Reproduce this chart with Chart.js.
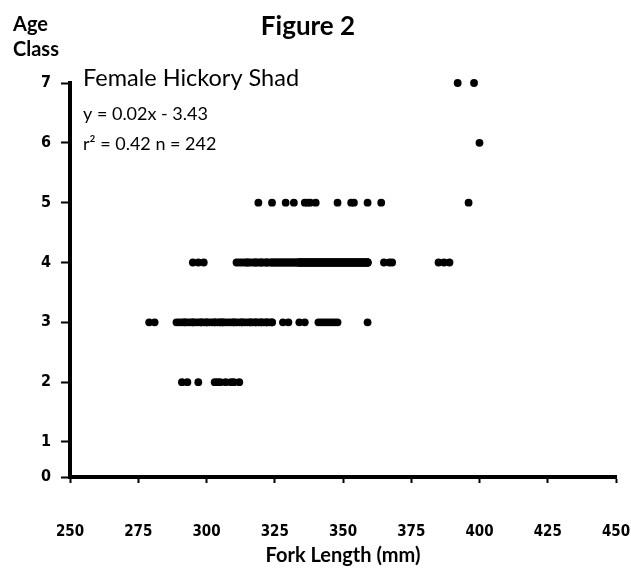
<!DOCTYPE html>
<html>
<head>
<meta charset="utf-8">
<script src="https://cdn.jsdelivr.net/npm/chart.js@4.4.1/dist/chart.umd.min.js"></script>
<style>
  html, body { margin: 0; padding: 0; background: #ffffff; }
  #wrap { width: 631px; height: 571px; position: relative; }
</style>
</head>
<body>
<div id="wrap"><canvas id="chart" width="631" height="571"></canvas></div>
<script>
// ---------------- data ----------------
const chartTitle = 'Figure 2';
const yAxisTitle = ['Age', 'Class'];
const xAxisTitle = 'Fork Length (mm)';
const seriesName = 'Female Hickory Shad';
const equationText = 'y = 0.02x - 3.43';
const statsText = 'r\u00B2 = 0.42 n = 242';

const xTickValues = [250, 275, 300, 325, 350, 375, 400, 425, 450];
const yTickValues = [0, 1, 2, 3, 4, 5, 6, 7];

const ageClasses = [2, 3, 4, 5, 6, 7];

// fork lengths (mm) of the fish in each age class
const age2Lengths = [291, 293, 297, 303, 304, 305, 307, 309, 310, 312];

const age3Lengths = [
  279, 281, 289, 290, 291, 292, 292, 293, 294, 295, 295, 296, 297, 298, 298,
  299, 300, 300, 301, 302, 303, 303, 304, 305, 305, 306, 306, 307, 308, 309,
  310, 310, 311, 312, 313, 313, 314, 315, 316, 316, 317, 318, 318, 319, 320,
  320, 321, 322, 322, 323, 324, 324, 328, 330, 334, 336, 341, 342, 343, 344,
  345, 346, 347, 348, 359
];

const age4Lengths = [
  295, 297, 299,
  311, 312, 313, 314, 315, 315, 316, 317, 318, 318, 319, 320, 320, 321, 322,
  322, 323, 324, 324, 325, 325, 326, 326, 327, 327, 328, 328, 329, 329, 330,
  330, 331, 331, 332, 332, 333, 333,
  334, 334, 334, 334, 335, 335, 335, 335, 336, 336, 336, 336, 337, 337, 337,
  337, 338, 338, 338, 338, 339, 339, 339, 339, 340, 340, 340, 340, 341, 341,
  341, 341, 342, 342, 342, 342, 343, 343, 343, 343, 344, 344, 344, 344, 345,
  345, 345, 345, 346, 346, 346, 346, 347, 347, 347, 347, 348, 348, 348, 348,
  349, 349, 349, 349, 350, 350, 350, 350, 351, 351, 351, 351, 352, 352, 352,
  352, 353, 353, 353, 353, 354, 354, 354, 354, 355, 355, 355, 355, 356, 356,
  356, 356, 357, 357, 357, 357, 358, 358, 358, 358, 359, 359, 359, 359,
  365, 367, 368, 385, 387, 389
];

const age5Lengths = [319, 324, 329, 332, 336, 337, 338, 340, 348, 353, 354, 359, 364, 396];
const age6Lengths = [400];
const age7Lengths = [392, 398];

// ---------------- build chart data from the arrays ----------------
const lengthsByAge = {
  2: age2Lengths, 3: age3Lengths, 4: age4Lengths,
  5: age5Lengths, 6: age6Lengths, 7: age7Lengths
};
const scatterPoints = [];
ageClasses.forEach(age => {
  lengthsByAge[age].forEach(len => scatterPoints.push({ x: len, y: age }));
});

// The printed figure's age axis is not uniform: the 0–1 interval is drawn
// shorter than the others. This scale reproduces that spacing.
const LOW_SEGMENT = 0.622;
const HIGH_STEP = (7 - LOW_SEGMENT) / 6;
class WarpedLinearScale extends Chart.LinearScale {
  getPixelForValue(value) {
    if (value === null || value === undefined) return NaN;
    const v = value <= 1 ? value * LOW_SEGMENT : LOW_SEGMENT + (value - 1) * HIGH_STEP;
    return super.getPixelForValue(v);
  }
  getValueForPixel(pixel) {
    const v = super.getValueForPixel(pixel);
    return v <= LOW_SEGMENT ? v / LOW_SEGMENT : 1 + (v - LOW_SEGMENT) / HIGH_STEP;
  }
}
WarpedLinearScale.id = 'warpedLinear';
WarpedLinearScale.defaults = {};
Chart.register(WarpedLinearScale);

const tickFont = { family: "'DejaVu Sans Condensed', 'Liberation Sans Narrow', 'DejaVu Sans', sans-serif", size: 15, weight: 'bold' };

const annotationText = {
  id: 'annotationText',
  afterDraw(chart) {
    const ctx = chart.ctx;
    ctx.save();
    ctx.fillStyle = '#000000';
    ctx.textBaseline = 'alphabetic';
    ctx.textAlign = 'left';
    ctx.font = "bold 20px Lato, 'DejaVu Sans', sans-serif";
    ctx.fillText(yAxisTitle[0], 13, 31);
    ctx.fillText(yAxisTitle[1], 13, 56);
    ctx.font = "23.5px Lato, 'DejaVu Sans', sans-serif";
    ctx.fillText(seriesName, 83, 86);
    ctx.font = "18px Lato, 'DejaVu Sans', sans-serif";
    ctx.fillText(equationText, 83, 120);
    ctx.fillText(statsText, 83, 150);
    ctx.restore();
  }
};

new Chart(document.getElementById('chart'), {
  type: 'scatter',
  data: {
    datasets: [{
      label: seriesName,
      data: scatterPoints,
      backgroundColor: '#000000',
      borderColor: '#000000',
      borderWidth: 0,
      pointStyle: 'circle',
      pointRadius: 3.9,
      clip: false
    }]
  },
  options: {
    responsive: false,
    animation: false,
    events: [],
    layout: { padding: { top: 0, right: 15, bottom: 0, left: 0 } },
    plugins: {
      legend: { display: false },
      tooltip: { enabled: false },
      title: {
        display: true,
        text: chartTitle,
        color: '#000000',
        font: { family: "Lato, 'DejaVu Sans', sans-serif", size: 26, weight: 'bold' },
        padding: { top: 11, bottom: 40.8 }
      }
    },
    scales: {
      x: {
        type: 'linear',
        min: 250,
        max: 450,
        afterBuildTicks: s => { s.ticks = xTickValues.map(v => ({ value: v })); },
        afterFit: s => { s.height = 94; s.paddingLeft = 0; s.paddingRight = 0; },
        border: { display: true, color: '#000000', width: 4 },
        grid: { drawOnChartArea: false, drawTicks: true, tickLength: 6, tickColor: '#000000', tickWidth: 2 },
        ticks: { color: '#000000', font: tickFont, padding: 40, maxRotation: 0 },
        title: {
          display: true,
          text: xAxisTitle,
          color: '#000000',
          font: { family: "Lato, 'DejaVu Sans', sans-serif", size: 20, weight: 'bold' },
          padding: { top: 0, bottom: 3 }
        }
      },
      y: {
        type: 'warpedLinear',
        min: 0,
        max: 7,
        afterBuildTicks: s => { s.ticks = yTickValues.map(v => ({ value: v })); },
        afterFit: s => { s.width = 70; },
        border: { display: true, color: '#000000', width: 4 },
        grid: { drawOnChartArea: false, drawTicks: true, tickLength: 9, tickColor: '#000000', tickWidth: 2 },
        ticks: { color: '#000000', font: { family: tickFont.family, size: 16, weight: 'bold' }, padding: 10 }
      }
    }
  },
  plugins: [annotationText]
});
</script>
</body>
</html>
